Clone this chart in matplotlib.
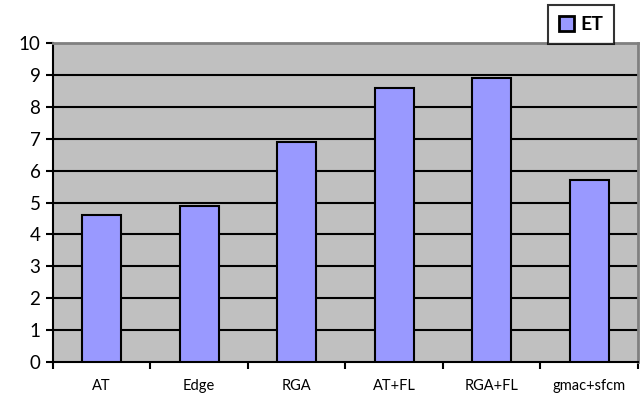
import matplotlib.pyplot as plt
import numpy as np

plt.rcParams['font.family'] = ['Lato', 'DejaVu Sans']

methods = ["AT", "Edge", "RGA", "AT+FL", "RGA+FL", "gmac+sfcm"]
et = [4.6, 4.9, 6.9, 8.6, 8.9, 5.7]

fig = plt.figure(figsize=(6.43, 4.0), dpi=100)
ax = fig.add_axes([0.0824, 0.095, 0.9098, 0.7975])
ax.set_facecolor("#C0C0C0")

x = np.arange(len(methods))
ax.bar(x, et, width=0.4, color="#9999FF", edgecolor="black", linewidth=1.5,
       label="ET", zorder=3)

ax.set_xlim(-0.5, len(methods) - 0.5)
ax.set_ylim(0, 10)
ax.set_yticks(range(0, 11))
ax.tick_params(axis="y", labelsize=13.5, length=5, width=1.5, direction="out", pad=4)

# category labels centred, ticks sitting between categories
ax.set_xticks(x)
ax.set_xticklabels(methods, fontsize=10.5)
ax.tick_params(axis="x", which="major", length=0, pad=12)
ax.set_xticks(np.arange(-0.5, len(methods)), minor=True)
ax.tick_params(axis="x", which="minor", length=5, width=1.5, direction="out")

for v in range(1, 10):
    ax.axhline(v, color="black", linewidth=1.5, zorder=1)

ax.spines["left"].set_linewidth(1.5)
ax.spines["bottom"].set_linewidth(1.5)
ax.spines["top"].set_color("#808080")
ax.spines["top"].set_linewidth(2)
ax.spines["right"].set_color("#808080")
ax.spines["right"].set_linewidth(2)

leg = fig.legend(loc="upper left", bbox_to_anchor=(548 / 643, 1 - 5 / 400),
                 frameon=True, fancybox=False, handlelength=0.8, handleheight=0.8,
                 handletextpad=0.3, borderpad=0.55, borderaxespad=0,
                 prop={"weight": "bold", "size": 14})
leg.get_frame().set_edgecolor("black")
leg.get_frame().set_linewidth(1.5)
leg.legend_handles[0].set_linewidth(2)

plt.savefig("out.png", dpi=100)
